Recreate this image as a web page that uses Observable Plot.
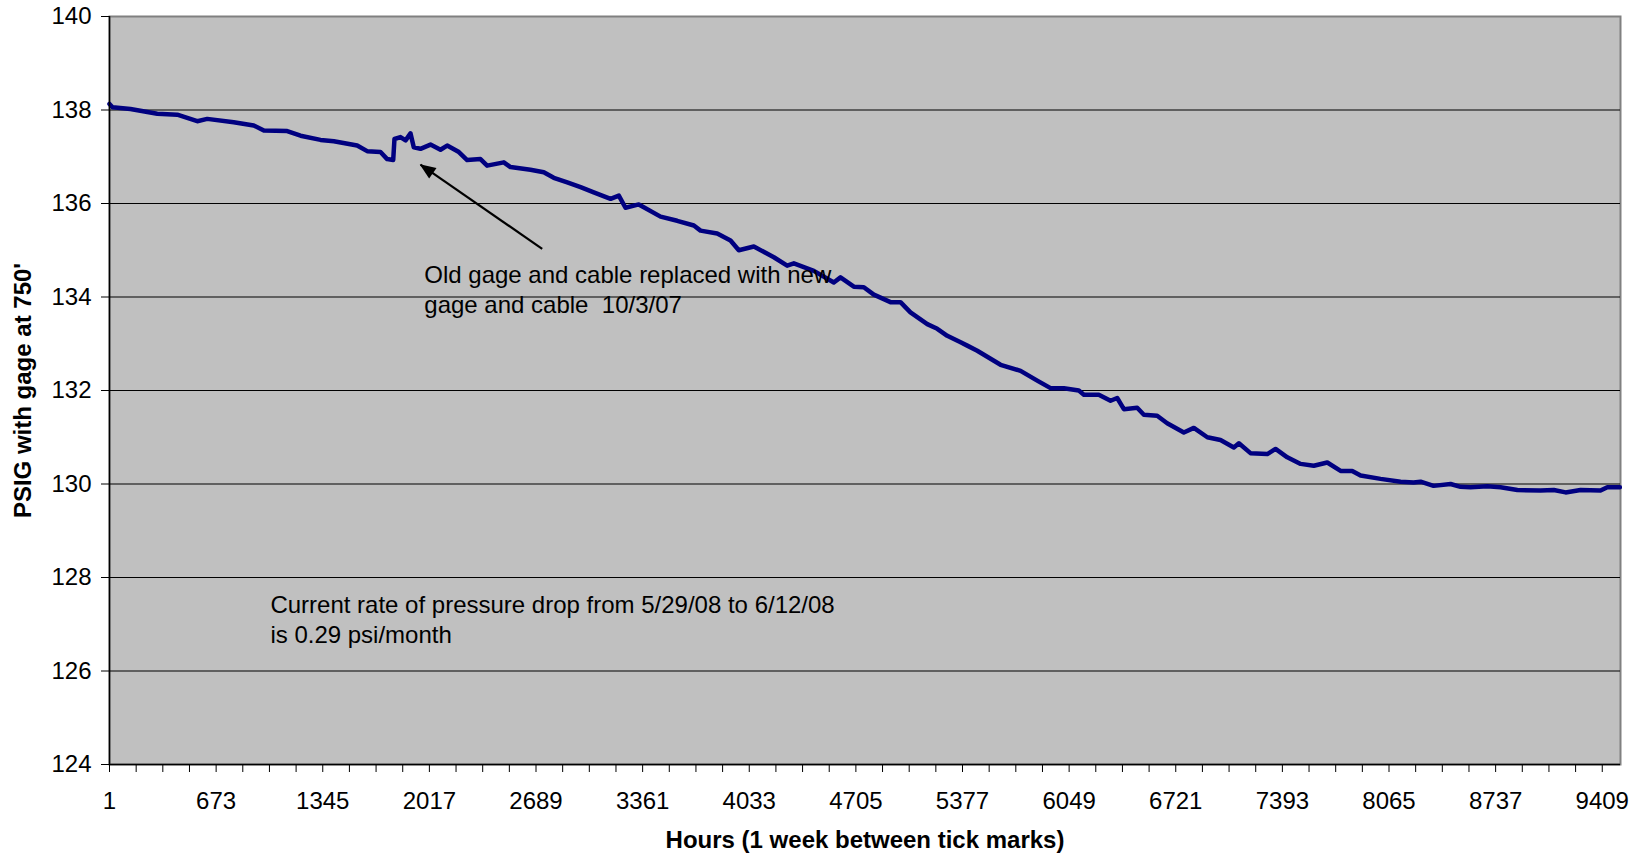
<!DOCTYPE html>
<html>
<head>
<meta charset="utf-8">
<script src="https://cdn.jsdelivr.net/npm/d3@7"></script>
<script src="https://cdn.jsdelivr.net/npm/@observablehq/plot@0.6"></script>
<style>
  html, body { margin: 0; padding: 0; background: #ffffff; }
  #chart svg { display: block; }
</style>
</head>
<body>
<div id="chart"></div>
<script>
// ---- Data ----
const hours = [1, 20, 133, 302, 428, 554, 617, 784, 910, 974, 1121, 1205, 1331, 1415, 1562, 1625, 1709, 1751, 1789,
  1797, 1835, 1867, 1898, 1919, 1961, 2024, 2087, 2129, 2203, 2255, 2339, 2381, 2486, 2528, 2654, 2738, 2801, 2886, 2970,
  3053, 3159, 3211, 3253, 3337, 3474, 3579, 3684, 3726, 3831, 3915, 3967, 4062, 4188, 4272, 4314, 4440, 4566, 4608, 4692,
  4755, 4818, 4923, 4986, 5049, 5155, 5218, 5281, 5365, 5407, 5470, 5617, 5743, 5848, 5932, 6016, 6110, 6142, 6236, 6310,
  6352, 6394, 6478, 6520, 6604, 6667, 6772, 6835, 6920, 7003, 7087, 7119, 7192, 7298, 7350, 7424, 7508, 7591, 7676, 7760,
  7833, 7886, 8012, 8138, 8220, 8264, 8346, 8453, 8516, 8579, 8684, 8768, 8874, 9020, 9104, 9178, 9272, 9398, 9441, 9520];
const psi = [138.13, 138.06, 138.02, 137.92, 137.90, 137.76, 137.81, 137.74, 137.67, 137.56, 137.55, 137.45, 137.36, 137.33, 137.24, 137.12, 137.10, 136.95, 136.93,
  137.38, 137.42, 137.35, 137.50, 137.20, 137.17, 137.26, 137.15, 137.24, 137.10, 136.93, 136.95, 136.81, 136.88, 136.78, 136.72, 136.67, 136.55, 136.45, 136.35,
  136.24, 136.10, 136.17, 135.91, 135.98, 135.72, 135.63, 135.53, 135.42, 135.36, 135.21, 135.00, 135.08, 134.85, 134.67, 134.72, 134.56, 134.31, 134.42, 134.22,
  134.21, 134.05, 133.89, 133.89, 133.67, 133.42, 133.32, 133.17, 133.03, 132.96, 132.85, 132.55, 132.42, 132.21, 132.05, 132.05, 132.00, 131.91, 131.91, 131.78,
  131.84, 131.60, 131.63, 131.48, 131.46, 131.30, 131.10, 131.20, 131.00, 130.94, 130.78, 130.87, 130.66, 130.64, 130.75, 130.57, 130.43, 130.39, 130.46, 130.28,
  130.28, 130.18, 130.11, 130.05, 130.03, 130.05, 129.96, 130.00, 129.94, 129.93, 129.95, 129.93, 129.87, 129.86, 129.87, 129.82, 129.87, 129.86, 129.93, 129.93];

const xTickLabels = [1, 673, 1345, 2017, 2689, 3361, 4033, 4705, 5377, 6049, 6721, 7393, 8065, 8737, 9409];
const xTickStep = 168; // one week of hours between tick marks
const xDomain = [1, 9524];
const yTicks = [124, 126, 128, 130, 132, 134, 136, 138, 140];
const yGrid = [126, 128, 130, 132, 134, 136, 138];

const yTitle = "PSIG with gage at 750'";
const xTitle = "Hours (1 week between tick marks)";
const note1 = "Old gage and cable replaced with new\ngage and cable  10/3/07";
const note1Pos = {x: 1985, y: 134.73};
const note2 = "Current rate of pressure drop from 5/29/08 to 6/12/08\nis 0.29 psi/month";
const note2Pos = {x: 1015, y: 127.69};
const arrowFrom = {x: 2728, y: 135.03};
const arrowTo = {x: 1961, y: 136.83};

// ---- Build ----
const data = hours.map((h, i) => ({hour: h, psi: psi[i]}));
const xTicks = d3.range(xTickLabels[0], xTickLabels[xTickLabels.length - 1] + 1, xTickStep);
const labelSet = new Set(xTickLabels);

const chart = Plot.plot({
  width: 1641,
  height: 858,
  marginLeft: 109,
  marginRight: 21,
  marginTop: 16,
  marginBottom: 94,
  style: {fontFamily: "'Liberation Sans', Arial, sans-serif", fontSize: "24px", background: "#ffffff", color: "#000000"},
  x: {type: "linear", domain: xDomain},
  y: {domain: [124, 140]},
  marks: [
    Plot.frame({fill: "#c0c0c0", stroke: "#808080", strokeWidth: 2}),
    Plot.ruleY(yGrid, {stroke: "#000000", strokeWidth: 1}),
    Plot.line(data, {x: "hour", y: "psi", stroke: "#000080", strokeWidth: 4.5, strokeLinejoin: "round"}),
    Plot.ruleX([xDomain[0]], {stroke: "#000000", strokeWidth: 1.5}),
    Plot.ruleY([124], {stroke: "#000000", strokeWidth: 1.5}),
    Plot.axisY({ticks: yTicks, tickSize: 8, tickPadding: 10, label: null, fontSize: 24}),
    Plot.axisX({ticks: xTicks, tickSize: 8, tickPadding: 19, label: null, fontSize: 24,
      tickFormat: d => labelSet.has(d) ? String(d) : ""}),
    Plot.text([yTitle], {frameAnchor: "left", textAnchor: "middle", rotate: -90, dx: -86, fontWeight: "bold", fontSize: 24}),
    Plot.text([xTitle], {frameAnchor: "bottom", textAnchor: "middle", dy: 83, fontWeight: "bold", fontSize: 24}),
    Plot.text([note1], {x: note1Pos.x, y: note1Pos.y, textAnchor: "start", lineAnchor: "top", lineHeight: 1.21, fontSize: 24}),
    Plot.text([note2], {x: note2Pos.x, y: note2Pos.y, textAnchor: "start", lineAnchor: "top", lineHeight: 1.24, fontSize: 24}),
    Plot.link([arrowFrom], {x1: "x", y1: "y", x2: d => arrowTo.x, y2: d => arrowTo.y, stroke: "#000000", strokeWidth: 2.2})
  ]
});

// filled arrowhead on the annotation link
const svg = chart.tagName.toLowerCase() === "svg" ? chart : chart.querySelector("svg");
const ns = "http://www.w3.org/2000/svg";
const defs = document.createElementNS(ns, "defs");
const marker = document.createElementNS(ns, "marker");
marker.setAttribute("id", "fillarrow");
marker.setAttribute("markerUnits", "userSpaceOnUse");
marker.setAttribute("viewBox", "-1 -8 18 16");
marker.setAttribute("markerWidth", "18");
marker.setAttribute("markerHeight", "16");
marker.setAttribute("refX", "15");
marker.setAttribute("refY", "0");
marker.setAttribute("orient", "auto");
const tri = document.createElementNS(ns, "path");
tri.setAttribute("d", "M0,-6.5L16,0L0,6.5Z");
tri.setAttribute("fill", "#000000");
marker.appendChild(tri);
defs.appendChild(marker);
svg.insertBefore(defs, svg.firstChild);
const linkGroups = svg.querySelectorAll('g[aria-label="link"]');
linkGroups.forEach(g => g.querySelectorAll("path").forEach(p => p.setAttribute("marker-end", "url(#fillarrow)")));

document.getElementById("chart").appendChild(chart);
</script>
</body>
</html>
